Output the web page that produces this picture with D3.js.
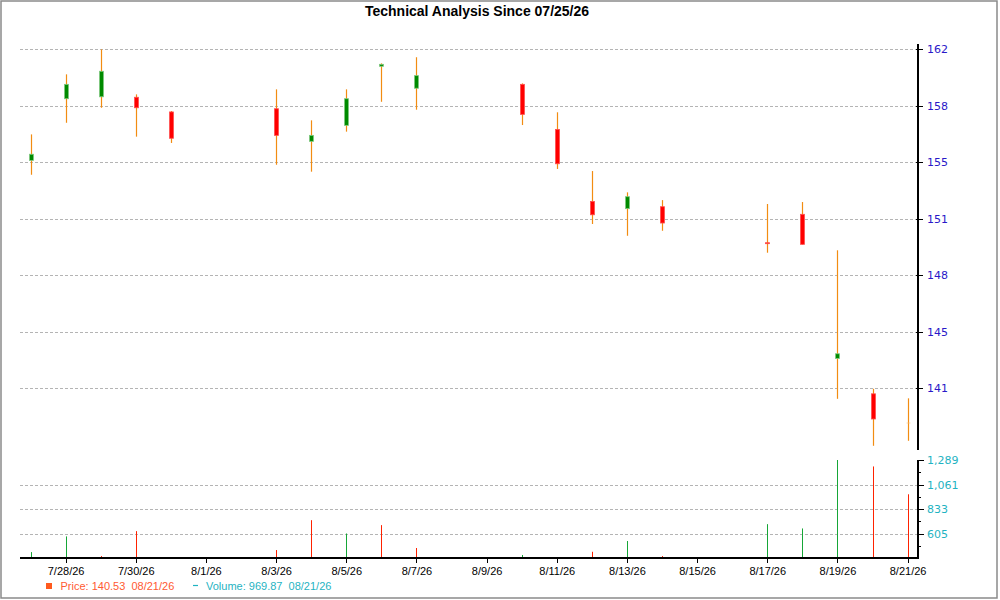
<!DOCTYPE html>
<html>
<head>
<meta charset="utf-8">
<script src="https://cdn.jsdelivr.net/npm/d3@7"></script>
<style>
  body { margin: 0; background: #fff; }
  svg { display: block; }
  .xlab { font-family: Arial, "Liberation Sans", sans-serif; font-size: 11px; }
  .ylab { font-family: "DejaVu Sans", Verdana, sans-serif; font-size: 11px; }
</style>
</head>
<body>
<svg id="chart"></svg>
<script>
// daily bars
const dates  = ["2026-07-27","2026-07-28","2026-07-29","2026-07-30","2026-07-31",
                "2026-08-03","2026-08-04","2026-08-05","2026-08-06","2026-08-07",
                "2026-08-10","2026-08-11","2026-08-12","2026-08-13","2026-08-14",
                "2026-08-17","2026-08-18","2026-08-19","2026-08-20","2026-08-21"];
const opens  = [155.10,158.92,159.04,159.01,158.10,158.30,156.28,157.27,160.93,159.57,
                159.81,157.02,152.56,152.11,152.23,150.00,151.76,142.83,140.64,138.85];
const highs  = [156.71,160.43,161.98,159.19,158.16,159.50,157.58,159.50,161.11,161.49,
                159.87,158.08,154.44,153.12,152.64,152.40,152.52,149.53,140.95,140.36];
const lows   = [154.21,157.43,158.36,156.57,156.18,154.83,154.40,156.88,158.73,158.24,
                157.29,154.57,151.16,150.43,150.74,149.38,149.88,140.33,137.42,137.73];
const closes = [155.48,159.81,160.62,158.36,156.47,156.65,156.65,158.92,161.05,160.35,
                157.95,154.89,151.73,152.85,151.22,149.94,149.90,143.12,139.08,138.85];
const volumes = [432,578,395,627,370,451,729,605,683,470,
                 405,372,435,535,395,692,652,1289,1229,970];
const volUp   = [1,1,0,0,0,0,0,1,0,0,1,0,0,1,0,1,1,1,0,0];

// axis ticks
const priceTicks  = [141, 144.5, 148, 151.5, 155, 158.5, 162];
const priceLabels = ["141","145","148","151","155","158","162"];
const volTicks    = [605, 833, 1061, 1289];
const volMin      = 377;
const xTickLabels = ["7/28/26","7/30/26","8/1/26","8/3/26","8/5/26","8/7/26","8/9/26",
                     "8/11/26","8/13/26","8/15/26","8/17/26","8/19/26","8/21/26"];

const titleText  = "Technical Analysis Since 07/25/26";
const legendDate = "08/21/26";

class CandleChart {

  constructor(_config) {
    this.config = {
      parentElement: _config.parentElement,
      containerWidth: 1000,
      containerHeight: 600,
      plotLeft: 20,
      axisX: 918,
      priceTop: 44, priceBottom: 450,
      volTop: 460, volBottom: 558
    };
    this.data = dates.map((d, i) => ({
      date: d3.utcParse("%Y-%m-%d")(d),
      open: opens[i], high: highs[i], low: lows[i], close: closes[i],
      volume: volumes[i], volUp: volUp[i] === 1
    }));
    this.initVis();
  }

  initVis() {
    let vis = this;
    const c = vis.config;

    vis.svg = d3.select(c.parentElement)
      .attr('width', c.containerWidth)
      .attr('height', c.containerHeight);

    // outer frame
    vis.svg.append('rect')
      .attr('x', 1).attr('y', 1)
      .attr('width', 996).attr('height', 597)
      .attr('fill', '#fff')
      .attr('stroke', '#8a8a8a')
      .attr('stroke-width', 1.5);

    vis.svg.append('text')
      .attr('x', 477).attr('y', 16)
      .attr('text-anchor', 'middle')
      .style('font-family', 'Arial, "Liberation Sans", sans-serif')
      .style('font-size', '14px')
      .style('font-weight', 'bold')
      .text(titleText);

    const parseTick = d3.utcParse("%m/%d/%y");
    vis.tickDates = xTickLabels.map(t => parseTick(t));

    vis.xScale = d3.scaleUtc()
      .domain(d3.extent(vis.data, d => d.date))
      .range([30.5, 907.6]);

    vis.yPrice = d3.scaleLinear()
      .domain([141, 162])
      .range([388, 49]);

    vis.yVol = d3.scaleLinear()
      .domain([volMin, 1289])
      .range([c.volBottom, c.volTop])
      .clamp(true);

    // gridlines
    vis.svg.append('g').selectAll('line')
      .data(priceTicks)
      .join('line')
      .attr('x1', c.plotLeft).attr('x2', c.axisX)
      .attr('y1', d => Math.round(vis.yPrice(d)) + 0.5)
      .attr('y2', d => Math.round(vis.yPrice(d)) + 0.5)
      .attr('stroke', '#b4b4b4')
      .attr('stroke-dasharray', '3,2');

    vis.svg.append('g').selectAll('line')
      .data(volTicks.slice(0, 3))
      .join('line')
      .attr('x1', c.plotLeft).attr('x2', c.axisX)
      .attr('y1', d => Math.round(vis.yVol(d)) + 0.5)
      .attr('y2', d => Math.round(vis.yVol(d)) + 0.5)
      .attr('stroke', '#b4b4b4')
      .attr('stroke-dasharray', '3,2');

    vis.updateVis();
  }

  updateVis() {
    let vis = this;
    const c = vis.config;

    // wicks
    vis.svg.append('g').selectAll('line')
      .data(vis.data)
      .join('line')
      .attr('x1', d => Math.round(vis.xScale(d.date)) + 0.5)
      .attr('x2', d => Math.round(vis.xScale(d.date)) + 0.5)
      .attr('y1', d => vis.yPrice(d.high))
      .attr('y2', d => vis.yPrice(d.low))
      .attr('stroke', '#f28c12')
      .attr('stroke-width', 1.2);

    // bodies
    vis.svg.append('g').selectAll('rect')
      .data(vis.data)
      .join('rect')
      .attr('x', d => Math.round(vis.xScale(d.date)) - 1.5)
      .attr('width', 4)
      .attr('y', d => vis.yPrice(Math.max(d.open, d.close)))
      .attr('height', d => Math.max(0.6, Math.abs(vis.yPrice(d.open) - vis.yPrice(d.close))))
      .attr('fill', d => d.close > d.open ? '#008a00' : (d.close < d.open ? '#ff0000' : '#f7c27a'))
      .attr('stroke', d => d.close > d.open ? '#7fc87f' : (d.close < d.open ? '#ff5050' : 'none'))
      .attr('stroke-width', 0.8);

    // volume bars
    vis.svg.append('g').selectAll('rect')
      .data(vis.data)
      .join('rect')
      .attr('x', d => Math.round(vis.xScale(d.date)))
      .attr('width', 1)
      .attr('y', d => vis.yVol(d.volume))
      .attr('height', d => c.volBottom - vis.yVol(d.volume))
      .attr('fill', d => d.volUp ? '#16a637' : '#ff2200');

    // right axis, price pane
    const pAxis = vis.svg.append('g');
    pAxis.append('line')
      .attr('x1', c.axisX).attr('x2', c.axisX)
      .attr('y1', c.priceTop).attr('y2', c.priceBottom)
      .attr('stroke', '#000').attr('stroke-width', 2);
    pAxis.selectAll('line.tk')
      .data(priceTicks)
      .join('line')
      .attr('class', 'tk')
      .attr('x1', c.axisX - 2).attr('x2', c.axisX + 5)
      .attr('y1', d => Math.round(vis.yPrice(d)) + 0.5)
      .attr('y2', d => Math.round(vis.yPrice(d)) + 0.5)
      .attr('stroke', '#000');
    pAxis.selectAll('text')
      .data(priceTicks)
      .join('text')
      .attr('class', 'ylab')
      .attr('x', c.axisX + 9)
      .attr('y', d => vis.yPrice(d) + 4)
      .attr('fill', '#2a18c8')
      .text((d, i) => priceLabels[i]);

    // right axis, volume pane
    const vAxis = vis.svg.append('g');
    vAxis.append('line')
      .attr('x1', c.axisX).attr('x2', c.axisX)
      .attr('y1', c.volTop).attr('y2', c.volBottom)
      .attr('stroke', '#000').attr('stroke-width', 2);
    const step = volTicks[1] - volTicks[0];
    const minor = volTicks.map(v => v - step / 2);
    vAxis.selectAll('line.mn')
      .data(minor)
      .join('line')
      .attr('class', 'mn')
      .attr('x1', c.axisX).attr('x2', c.axisX + 3)
      .attr('y1', d => Math.round(vis.yVol(d)) + 0.5)
      .attr('y2', d => Math.round(vis.yVol(d)) + 0.5)
      .attr('stroke', '#000');
    vAxis.selectAll('line.tk')
      .data(volTicks)
      .join('line')
      .attr('class', 'tk')
      .attr('x1', c.axisX).attr('x2', c.axisX + 6)
      .attr('y1', d => Math.round(vis.yVol(d)) + 0.5)
      .attr('y2', d => Math.round(vis.yVol(d)) + 0.5)
      .attr('stroke', '#000');
    vAxis.selectAll('text')
      .data(volTicks)
      .join('text')
      .attr('class', 'ylab')
      .attr('x', c.axisX + 9)
      .attr('y', d => vis.yVol(d) + 4)
      .attr('fill', '#1fb3c2')
      .text(d => d3.format(',')(d));

    // bottom axis
    const xAxis = vis.svg.append('g');
    xAxis.append('line')
      .attr('x1', c.plotLeft).attr('x2', c.axisX + 1)
      .attr('y1', c.volBottom).attr('y2', c.volBottom)
      .attr('stroke', '#000').attr('stroke-width', 2);
    xAxis.selectAll('line.tk')
      .data(vis.tickDates)
      .join('line')
      .attr('class', 'tk')
      .attr('x1', d => Math.round(vis.xScale(d)) + 0.5)
      .attr('x2', d => Math.round(vis.xScale(d)) + 0.5)
      .attr('y1', c.volBottom).attr('y2', c.volBottom + 5)
      .attr('stroke', '#000');
    xAxis.selectAll('text')
      .data(vis.tickDates)
      .join('text')
      .attr('class', 'xlab')
      .attr('x', d => vis.xScale(d) + 0.5)
      .attr('y', 575)
      .attr('text-anchor', 'middle')
      .attr('fill', '#000')
      .text((d, i) => xTickLabels[i]);

    // legend
    const lg = vis.svg.append('g').attr('class', 'xlab');
    lg.append('rect')
      .attr('x', 46).attr('y', 583)
      .attr('width', 6).attr('height', 6)
      .attr('fill', '#ff5a1e');
    lg.append('text')
      .attr('x', 60.5).attr('y', 590)
      .attr('fill', '#ff5a32')
      .attr('xml:space', 'preserve')
      .text(`Price: 140.53  ${legendDate}`);
    lg.append('line')
      .attr('x1', 193).attr('x2', 198)
      .attr('y1', 585.5).attr('y2', 585.5)
      .attr('stroke', '#1fb3c2').attr('stroke-width', 1.2);
    lg.append('text')
      .attr('x', 206).attr('y', 590)
      .attr('fill', '#1fb3c2')
      .attr('xml:space', 'preserve')
      .text(`Volume: ${d3.format('.2f')(969.87)}  ${legendDate}`);
  }
}

const chart = new CandleChart({ parentElement: '#chart' });
</script>
</body>
</html>
